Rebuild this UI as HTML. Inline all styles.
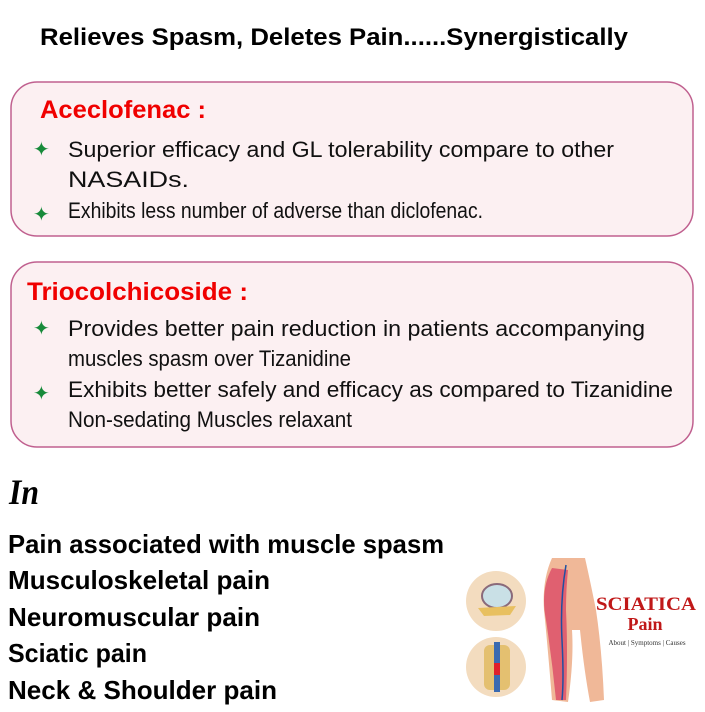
<!DOCTYPE html>
<html><head><style>body{margin:0;background:#fff}svg{display:block}</style></head>
<body>
<svg width="705" height="712" viewBox="0 0 705 712" xmlns="http://www.w3.org/2000/svg" font-family="Liberation Sans, sans-serif">
<rect x="0" y="0" width="705" height="712" fill="#fff"/>
<text x="40" y="45" font-size="24" font-weight="bold" textLength="588" lengthAdjust="spacingAndGlyphs">Relieves Spasm, Deletes Pain......Synergistically</text>

<rect x="11" y="82" width="682" height="154" rx="26" fill="#fcf0f2" stroke="#c0608f" stroke-width="1.5"/>
<text x="40" y="118" font-size="25" font-weight="bold" fill="#f00000" textLength="166" lengthAdjust="spacingAndGlyphs">Aceclofenac :</text>
<g font-size="22" fill="#111">
<text x="68" y="157" textLength="546" lengthAdjust="spacingAndGlyphs">Superior efficacy and GL tolerability compare to other</text>
<text x="68" y="187" textLength="121" lengthAdjust="spacingAndGlyphs">NASAIDs.</text>
<text x="68" y="218" textLength="415" lengthAdjust="spacingAndGlyphs">Exhibits less number of adverse than diclofenac.</text>
</g>

<rect x="11" y="262" width="682" height="185" rx="26" fill="#fcf0f2" stroke="#c0608f" stroke-width="1.5"/>
<text x="27" y="300" font-size="25" font-weight="bold" fill="#f00000" textLength="221" lengthAdjust="spacingAndGlyphs">Triocolchicoside :</text>
<g font-size="22" fill="#111">
<text x="68" y="336" textLength="577" lengthAdjust="spacingAndGlyphs">Provides better pain reduction in patients accompanying</text>
<text x="68" y="366" textLength="283" lengthAdjust="spacingAndGlyphs">muscles spasm over Tizanidine</text>
<text x="68" y="397" textLength="605" lengthAdjust="spacingAndGlyphs">Exhibits better safely and efficacy as compared to Tizanidine</text>
<text x="68" y="427" textLength="284" lengthAdjust="spacingAndGlyphs">Non-sedating Muscles relaxant</text>
</g>

<g fill="#178a3a" font-size="20"><text x="33" y="156">✦</text><text x="33" y="221">✦</text><text x="33" y="335">✦</text><text x="33" y="400">✦</text></g>

<text x="9" y="504" font-size="36" font-style="italic" font-weight="bold" font-family="Liberation Serif, serif" textLength="30" lengthAdjust="spacingAndGlyphs">In</text>
<g font-size="26" font-weight="bold" fill="#000">
<text x="8" y="553" textLength="436" lengthAdjust="spacingAndGlyphs">Pain associated with muscle spasm</text>
<text x="8" y="589" textLength="262" lengthAdjust="spacingAndGlyphs">Musculoskeletal pain</text>
<text x="8" y="626" textLength="252" lengthAdjust="spacingAndGlyphs">Neuromuscular pain</text>
<text x="8" y="662" textLength="139" lengthAdjust="spacingAndGlyphs">Sciatic pain</text>
<text x="8" y="699" textLength="269" lengthAdjust="spacingAndGlyphs">Neck &amp; Shoulder pain</text>
</g>

<g>
<circle cx="496" cy="601" r="30" fill="#f3dcbf"/>
<ellipse cx="497" cy="596" rx="15" ry="12" fill="#c9e0e6" stroke="#8a6a7a" stroke-width="2"/>
<path d="M478 608 L516 606 L510 615 L484 616 Z" fill="#e8c060"/>
<circle cx="496" cy="667" r="30" fill="#f3dcbf"/>
<rect x="484" y="645" width="26" height="45" rx="6" fill="#e4c070"/>
<rect x="494" y="642" width="6" height="50" fill="#3a6ab0"/>
<rect x="494" y="663" width="6" height="12" fill="#e0202a"/>
<path d="M552 558 Q542 580 544 610 Q548 650 552 700 L568 702 Q574 660 572 630 L580 630 Q584 670 590 702 L604 700 Q602 650 596 610 Q590 580 585 558 Z" fill="#f0b898"/>
<path d="M552 568 Q540 590 546 620 Q552 660 556 700 L566 700 Q568 650 566 610 Q566 590 568 570 Z" fill="#e06070"/>
<path d="M566 565 Q560 600 562 640 Q564 680 562 700" stroke="#2050a0" stroke-width="1.5" fill="none"/>
<text x="646" y="610" font-size="19" font-weight="bold" fill="#c01818" font-family="Liberation Serif, serif" text-anchor="middle" textLength="100" lengthAdjust="spacingAndGlyphs">SCIATICA</text>
<text x="645" y="630" font-size="18" font-weight="bold" fill="#c01818" font-family="Liberation Serif, serif" text-anchor="middle">Pain</text>
<text x="647" y="645" font-size="7" fill="#333" font-family="Liberation Serif, serif" text-anchor="middle">About | Symptoms | Causes</text>
</g>
</svg>
</body></html>
